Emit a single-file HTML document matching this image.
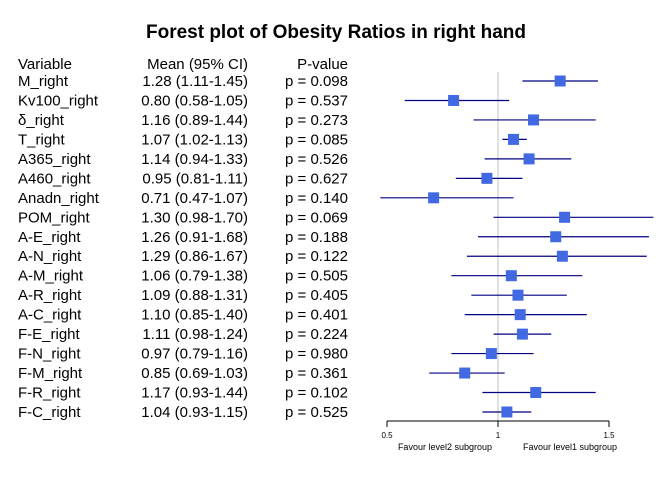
<!DOCTYPE html>
<html><head><meta charset="utf-8"><style>
body{margin:0;background:#fff;}
svg{display:block;font-family:"Liberation Sans",Arial,sans-serif;}
</style></head><body>
<svg id="chart" width="672" height="480" viewBox="0 0 672 480">
<rect width="672" height="480" fill="#fff"/>
<text x="336" y="38" text-anchor="middle" font-size="19" font-weight="bold">Forest plot of Obesity Ratios in right hand</text>
<g font-size="15" fill="#000">
<text x="18" y="69">Variable</text>
<text x="248" y="69" text-anchor="end">Mean (95% CI)</text>
<text x="348" y="69" text-anchor="end">P-value</text>
</g>
<g id="rows"></g>
<g id="plot"></g>
</svg>
<script>
const variables=["M_right","Kv100_right","δ_right","T_right","A365_right","A460_right","Anadn_right","POM_right","A-E_right","A-N_right","A-M_right","A-R_right","A-C_right","F-E_right","F-N_right","F-M_right","F-R_right","F-C_right"];
const means=[1.28,0.80,1.16,1.07,1.14,0.95,0.71,1.30,1.26,1.29,1.06,1.09,1.10,1.11,0.97,0.85,1.17,1.04];
const lowers=[1.11,0.58,0.89,1.02,0.94,0.81,0.47,0.98,0.91,0.86,0.79,0.88,0.85,0.98,0.79,0.69,0.93,0.93];
const uppers=[1.45,1.05,1.44,1.13,1.33,1.11,1.07,1.70,1.68,1.67,1.38,1.31,1.40,1.24,1.16,1.03,1.44,1.15];
const pvalues=["0.098","0.537","0.273","0.085","0.526","0.627","0.140","0.069","0.188","0.122","0.505","0.405","0.401","0.224","0.980","0.361","0.102","0.525"];
const ticks=[0.5,1,1.5];
const tickLabels=["0.5","1","1.5"];
const NS="http://www.w3.org/2000/svg";
const x=v=>387+(v-0.5)*222;
const y=i=>81+i*19.47;
const rows=document.getElementById('rows'), plot=document.getElementById('plot');
function mk(tag,attrs,parent,text){const e=document.createElementNS(NS,tag);for(const k in attrs)e.setAttribute(k,attrs[k]);if(text!==undefined)e.textContent=text;parent.appendChild(e);return e;}
const ref=mk('line',{x1:x(1),x2:x(1),y1:72,y2:421,stroke:'#d0d0d0','stroke-width':1.3},plot);


variables.forEach((v,i)=>{
  const yy=y(i);
  const t1=mk('text',{x:18,y:yy+5,'font-size':15},rows,v);
  
  
  const t2=mk('text',{x:248,y:yy+5,'font-size':15,'text-anchor':'end'},rows,means[i].toFixed(2)+" ("+lowers[i].toFixed(2)+"-"+uppers[i].toFixed(2)+")");
  
  
  const t3=mk('text',{x:348,y:yy+5,'font-size':15,'text-anchor':'end'},rows,"p = "+pvalues[i]);
  
  
  const ln=mk('line',{x1:x(lowers[i]),x2:x(uppers[i]),y1:yy,y2:yy,stroke:'#000080','stroke-width':1.2},plot);
  
  
  const b=mk('rect',{x:x(means[i])-5.5,y:yy-5.5,width:11,height:11,fill:'#4169E1'},plot);
  
  
});
const ax=mk('line',{x1:x(0.5),x2:x(1.5),y1:421,y2:421,stroke:'#000','stroke-width':1},plot);


ticks.forEach((t,i)=>{
  const tk=mk('line',{x1:x(t),x2:x(t),y1:421,y2:427,stroke:'#000','stroke-width':1},plot);
  
  
  const tl=mk('text',{x:x(t),y:438,'font-size':8,'text-anchor':'middle'},plot,tickLabels[i]);
  
  
});
const f1=mk('text',{x:x(1)-6,y:450,'font-size':9,'text-anchor':'end'},plot,"Favour level2 subgroup");


const f2=mk('text',{x:x(1)+25,y:450,'font-size':9},plot,"Favour level1 subgroup");


</script>
</body></html>
